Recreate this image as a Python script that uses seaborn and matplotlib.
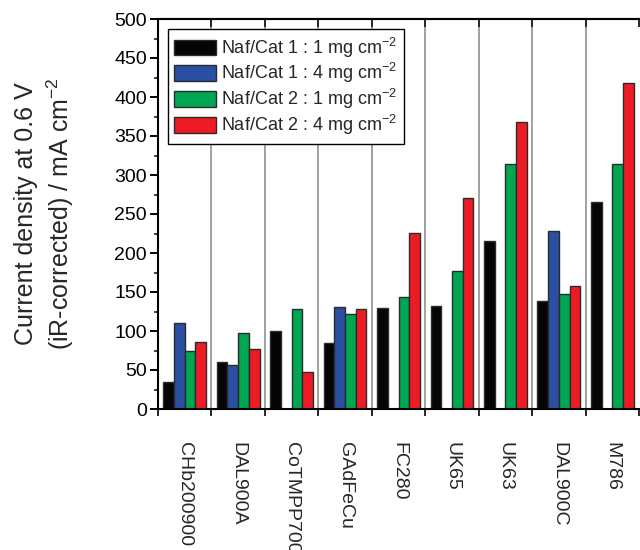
import numpy as np
import pandas as pd
import matplotlib
matplotlib.use("Agg")
import matplotlib.pyplot as plt
import seaborn as sns

# Catalysts and current densities (mA cm^-2) at 0.6 V, iR-corrected
categories = ["CHb200900", "DAL900A", "CoTMPP700", "GAdFeCu", "FC280",
              "UK65", "UK63", "DAL900C", "M786"]
naf1_load1 = [35, 60, 100, 85, 130, 132, 216, 139, 265]
naf1_load4 = [110, 57, np.nan, 131, np.nan, np.nan, np.nan, 228, np.nan]
naf2_load1 = [74, 98, 128, 122, 144, 177, 314, 148, 314]
naf2_load4 = [86, 77, 48, 128, 226, 271, 368, 158, 418]

series_labels = [
    r"Naf/Cat 1 : 1 mg cm$^{-2}$",
    r"Naf/Cat 1 : 4 mg cm$^{-2}$",
    r"Naf/Cat 2 : 1 mg cm$^{-2}$",
    r"Naf/Cat 2 : 4 mg cm$^{-2}$",
]
series_colors = ["#050505", "#2a4fa3", "#00a651", "#ed1c24"]
y_ticks = list(range(0, 501, 50))

rows = []
for label, values in zip(series_labels,
                         [naf1_load1, naf1_load4, naf2_load1, naf2_load4]):
    for cat, v in zip(categories, values):
        rows.append({"catalyst": cat, "series": label, "current": v})
df = pd.DataFrame(rows)

sns.set_style("ticks")
plt.rcParams["font.family"] = ["Liberation Sans", "DejaVu Sans"]
plt.rcParams["mathtext.fontset"] = "custom"
plt.rcParams["mathtext.rm"] = "Liberation Sans"
plt.rcParams["mathtext.it"] = "Liberation Sans:italic"
plt.rcParams["mathtext.default"] = "regular"

fig = plt.figure(figsize=(6.4, 5.5), dpi=100)
ax = fig.add_axes([158 / 640, 141 / 550, 481 / 640, 390 / 550])

sns.barplot(data=df, x="catalyst", y="current", hue="series",
            order=categories, hue_order=series_labels,
            palette=series_colors, errorbar=None, width=0.8,
            edgecolor="#2b2b2b", linewidth=1.0, saturation=1.0, ax=ax)

ax.set_xlim(-0.5, len(categories) - 0.5)
ax.set_ylim(0, 500)

# Gray separators between catalyst groups
for b in np.arange(0.5, len(categories) - 0.5, 1.0):
    ax.axvline(b, color="#9a9a9a", lw=1.3, zorder=0)

# Y axis ticks
ax.set_yticks(y_ticks)
ax.set_yticks(np.arange(25, 500, 50), minor=True)
ax.tick_params(axis="y", which="major", direction="out", length=6,
               width=1.4, labelsize=14, pad=2, colors="black")
ax.tick_params(axis="y", which="minor", direction="out", length=3,
               width=1.2)

# X axis: labels at group centres, ticks at group boundaries
ax.set_xticks(range(len(categories)))
ax.set_xticklabels(categories, rotation=270, fontsize=14)
ax.set_xticks(np.arange(-0.5, len(categories), 1.0), minor=True)
ax.tick_params(axis="x", which="major", length=0, pad=24)
ax.tick_params(axis="x", which="minor", direction="out", length=5,
               width=1.4, bottom=True, top=False)
for lab in ax.get_xticklabels():
    lab.set_va("top")
    lab.set_ha("center")

# Ticks on the top spine, pointing inward
sec = ax.secondary_xaxis("top")
sec.set_xticks(np.arange(-0.5, len(categories), 1.0))
sec.set_xticklabels([])
sec.tick_params(direction="in", length=6, width=1.4)
sec.spines["top"].set_linewidth(1.5)

for side in ["left", "bottom", "top"]:
    ax.spines[side].set_linewidth(1.5)
    ax.spines[side].set_color("black")
ax.spines["right"].set_visible(False)

ax.set_xlabel("")
ax.set_ylabel("Current density at 0.6 V\n(iR-corrected) / mA cm$^{-2}$",
              fontsize=18, linespacing=1.25)
ax.yaxis.set_label_coords(-0.171, 0.5)

leg = ax.legend(loc="upper left", bbox_to_anchor=(0.021, 0.974),
                borderaxespad=0, fontsize=13, frameon=True, fancybox=False,
                edgecolor="black", framealpha=1, handlelength=2.3,
                handleheight=0.95, handletextpad=0.3, labelspacing=0.1,
                borderpad=0.35, title=None)
leg.get_frame().set_linewidth(1.0)

fig.savefig("out.png", dpi=100)
